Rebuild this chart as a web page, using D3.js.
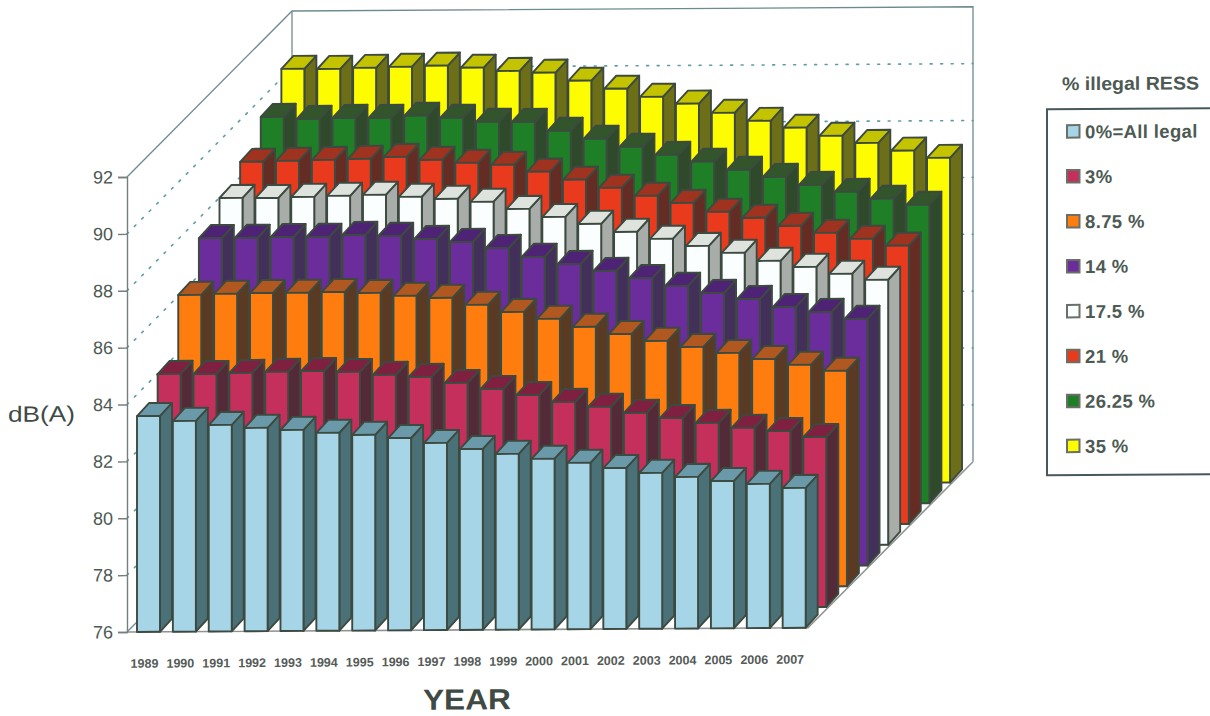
<!DOCTYPE html>
<html>
<head>
<meta charset="utf-8">
<title>Sound level by year and share of illegal RESS</title>
<script src="https://cdn.jsdelivr.net/npm/d3@7"></script>
<style>
  html, body { margin: 0; padding: 0; background: #fff; }
  svg { display: block; }
  text { font-family: "Liberation Sans", Arial, sans-serif; }
</style>
</head>
<body>
<svg id="chart" width="1210" height="716"></svg>
<script>
// Years along the horizontal axis
const years = d3.range(1989, 2008).map(String);

// dB(A) per year, one array per share of illegal RESS
const legal0 = [83.59,83.41,83.26,83.15,83.07,82.96,82.88,82.76,82.58,82.36,82.18,82.00,81.85,81.66,81.48,81.33,81.18,81.07,80.92];
const illegal3 = [84.34,84.33,84.36,84.39,84.41,84.37,84.26,84.18,83.96,83.74,83.52,83.27,83.09,82.87,82.68,82.50,82.32,82.20,81.98];
const illegal875 = [86.39,86.42,86.44,86.44,86.46,86.42,86.31,86.23,85.98,85.72,85.47,85.18,84.92,84.67,84.45,84.23,84.01,83.80,83.58];
const illegal14 = [87.66,87.66,87.68,87.68,87.74,87.70,87.58,87.47,87.25,86.93,86.67,86.42,86.16,85.88,85.62,85.40,85.11,84.93,84.68];
const illegal175 = [88.34,88.33,88.36,88.39,88.42,88.34,88.26,88.15,87.89,87.60,87.35,87.06,86.81,86.55,86.30,86.01,85.79,85.54,85.32];
const illegal21 = [88.88,88.91,88.93,88.96,89.02,88.91,88.80,88.72,88.47,88.18,87.89,87.60,87.34,87.02,86.80,86.51,86.26,86.04,85.79];
const illegal2625 = [89.73,89.65,89.68,89.67,89.74,89.66,89.51,89.50,89.18,88.89,88.60,88.31,88.06,87.77,87.51,87.22,86.97,86.72,86.50];
const illegal35 = [90.69,90.68,90.71,90.74,90.77,90.69,90.57,90.50,90.21,89.92,89.63,89.38,89.05,88.76,88.51,88.22,87.96,87.68,87.42];

const seriesNames = ["0%=All legal","3%","8.75 %","14 %","17.5 %","21 %","26.25 %","35 %"];
const seriesValues = [legal0, illegal3, illegal875, illegal14, illegal175, illegal21, illegal2625, illegal35];
const yTicks = [76,78,80,82,84,86,88,90,92];

// Face colours: front, side, top
const frontColors = ["#a6d5e8","#c42f5c","#ff7d0f","#6b2c9c","#fbfefe","#ea3a1e","#1f7f26","#fdfc00"];
const sideColors  = ["#4a7178","#552a38","#5a3a22","#43305a","#a9ada9","#652c24","#2e4a2b","#6c6e18"];
const topColors   = ["#6a9aaa","#7f2040","#b0581f","#4e2275","#dfe3dd","#a0331f","#33552c","#c4c300"];

const edge = "#3d4a40";
const ink = "#4d5a53";
const grid = "#5f9ea0";

// Oblique projection: each series steps back along the depth axis
const depthTotal = 165;
const barDepthX = 12, barDepthY = 13;

const x = d3.scaleBand().domain(years).range([137, 805.66]).paddingInner(0.359).paddingOuter(0);
const y = d3.scaleLinear().domain([76, 92]).range([632, 177]);
const depth = d3.scaleLinear().domain([0, seriesNames.length]).range([0, depthTotal]);

const svg = d3.select("#chart");
// The whole sheet sits very slightly tilted
const sheet = svg.append("g").attr("transform", "matrix(1,-0.0062,0,1,0,0.79)");

const axisLeftX = 127;
const wallRight = 973;
const floorRight = wallRight - depthTotal;

// Walls and floor outline
const frame = sheet.append("g").attr("fill", "none").attr("stroke", "#6d8a8e").attr("stroke-width", 1.3);
const y92 = y(92), y76 = y(76);
frame.append("path").attr("d", `M${axisLeftX},${y92}L${axisLeftX + depthTotal},${y92 - depthTotal}L${wallRight},${y92 - depthTotal}L${wallRight},${y76 - depthTotal}`);
frame.append("path").attr("d", `M${axisLeftX + depthTotal},${y92 - depthTotal}V${y76 - depthTotal}`);
frame.append("path").attr("d", `M${axisLeftX},${y76}H${floorRight}L${wallRight},${y76 - depthTotal}`).attr("stroke", "#8d9592").attr("stroke-width", 1.6);
frame.append("path").attr("d", `M${axisLeftX},${y76}L${axisLeftX + depthTotal},${y76 - depthTotal}`);

// Dotted level lines on the side and back walls
const gridLines = sheet.append("g").attr("fill", "none").attr("stroke", grid)
  .attr("stroke-width", 1.6).attr("stroke-dasharray", "2 8.5").attr("stroke-linecap", "round");
yTicks.filter(t => t > 76 && t < 92).forEach(t => {
  gridLines.append("path").attr("d", `M${axisLeftX},${y(t)}L${axisLeftX + depthTotal},${y(t) - depthTotal}H${wallRight}`);
});

// Bars, rear series first so nearer ones overlap them
const bars = sheet.append("g").attr("stroke", edge).attr("stroke-width", 1.9).attr("stroke-linejoin", "round");
d3.range(seriesNames.length - 1, -1, -1).forEach(k => {
  const shift = depth(k);
  const group = bars.append("g").attr("transform", `translate(${shift},${-shift})`);
  const bar = group.selectAll("g").data(seriesValues[k]).join("g");
  const left = (d, i) => x(years[i]);
  const right = (d, i) => x(years[i]) + x.bandwidth();
  bar.append("path").attr("fill", sideColors[k]).attr("d", (d, i) => {
    const r = right(d, i);
    return `M${r},${y(76)}V${y(d)}l${barDepthX},${-barDepthY}V${y(76) - barDepthY}Z`;
  });
  bar.append("path").attr("fill", topColors[k]).attr("d", (d, i) => {
    const l = left(d, i), r = right(d, i);
    return `M${l},${y(d)}H${r}l${barDepthX},${-barDepthY}H${l + barDepthX}Z`;
  });
  bar.append("rect").attr("fill", frontColors[k])
    .attr("x", left).attr("y", d => y(d))
    .attr("width", x.bandwidth()).attr("height", d => y(76) - y(d));
});

// Value axis
const yAxis = sheet.append("g").attr("transform", `translate(${axisLeftX},0)`)
  .call(d3.axisLeft(y).tickValues(yTicks).tickFormat(d3.format("d")).tickSize(9).tickPadding(5));
yAxis.selectAll("line, path").attr("stroke", "#75807d").attr("stroke-width", 1.4);
yAxis.selectAll("text").attr("font-size", 18).attr("fill", ink);

// Year axis
const xAxis = sheet.append("g").attr("transform", "translate(-4,659)")
  .call(d3.axisBottom(x).tickSize(0).tickPadding(0));
xAxis.select(".domain").remove();
xAxis.selectAll("text").attr("font-size", 12.5).attr("font-weight", "bold").attr("fill", "#555b58");

// Axis titles
sheet.append("text").attr("x", 8).attr("y", 421).attr("font-size", 22).attr("fill", "#3f4a45")
  .attr("textLength", 67).attr("lengthAdjust", "spacingAndGlyphs").text("dB(A)");
sheet.append("text").attr("x", 423).attr("y", 711.5).attr("font-size", 29).attr("font-weight", "bold").attr("fill", "#3f4a45")
  .attr("textLength", 88).attr("lengthAdjust", "spacingAndGlyphs").text("YEAR");

// Legend
const legendRows = d3.scalePoint().domain(seriesNames).range([137.5, 452]);
sheet.append("text").attr("x", 1062).attr("y", 96).attr("font-size", 18.5).attr("font-weight", "bold").attr("fill", ink)
  .attr("textLength", 137).attr("lengthAdjust", "spacingAndGlyphs").text("% illegal RESS");
sheet.append("rect").attr("x", 1047).attr("y", 115).attr("width", 230).attr("height", 366)
  .attr("fill", "#fff").attr("stroke", "#46585c").attr("stroke-width", 2);
const legendItem = sheet.append("g").selectAll("g").data(seriesNames).join("g")
  .attr("transform", d => `translate(1067,${legendRows(d)})`);
legendItem.append("rect").attr("x", 0).attr("y", -6.5).attr("width", 12.5).attr("height", 12.5)
  .attr("fill", (d, i) => frontColors[i]).attr("stroke", "#6a6f68").attr("stroke-width", 2);
legendItem.append("text").attr("x", 18).attr("dy", "0.36em").attr("font-size", 18.5).attr("fill", ink)
  .attr("font-weight", "bold").attr("letter-spacing", 0.35).text(d => d);
</script>
</body>
</html>
